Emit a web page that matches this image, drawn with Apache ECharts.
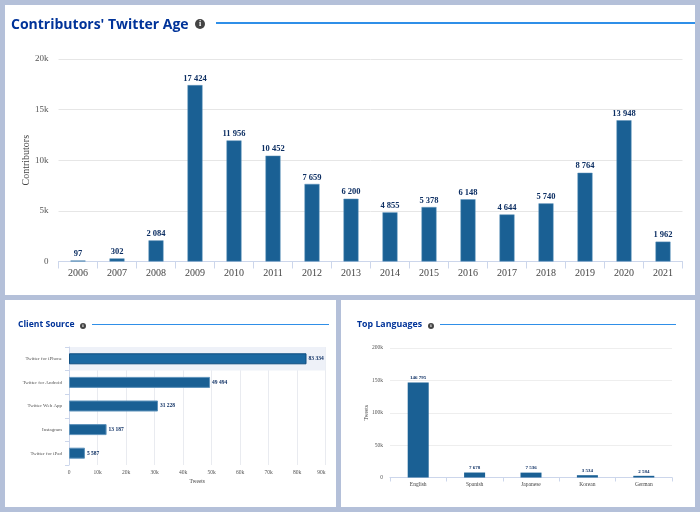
<!DOCTYPE html>
<html>
<head>
<meta charset="utf-8">
<title>Contributors</title>
<script src="https://cdn.jsdelivr.net/npm/echarts@6/dist/echarts.min.js"></script>
<style>
html,body{margin:0;padding:0;width:700px;height:512px;background:#b4c0d9;overflow:hidden;}
.panel{position:absolute;background:#fff;}
.chart{position:absolute;left:0;top:0;width:100%;height:100%;}
.head{position:absolute;z-index:2;color:#003399;font-family:"Open Sans","Noto Sans",sans-serif;font-weight:700;white-space:nowrap;}
.info{position:absolute;z-index:2;border-radius:50%;background:#444;color:#fff;font-family:"Liberation Serif",serif;font-weight:700;text-align:center;}
.rule{position:absolute;z-index:2;height:2px;background:#2f8fe8;}
</style>
</head>
<body>
<div class="panel" style="left:5px;top:5px;width:690px;height:290px;">
	<div class="head" style="left:6px;top:9px;font-size:14px;">Contributors' Twitter Age</div>
	<div class="info" style="left:190px;top:14px;width:10px;height:10px;font-size:8px;line-height:10px;">i</div>
	<div class="rule" style="left:211px;top:17px;width:479px;"></div>
	<div class="chart" id="age"></div>
</div>
<div class="panel" style="left:5px;top:300px;width:331px;height:207px;">
	<div class="head" style="left:13px;top:18px;font-size:8.6px;">Client Source</div>
	<div class="info" style="left:75px;top:23px;width:6px;height:6px;font-size:5px;line-height:6px;">i</div>
	<div class="rule" style="left:87px;top:24px;width:237px;height:1px;"></div>
	<div class="chart" id="client"></div>
</div>
<div class="panel" style="left:341px;top:300px;width:354px;height:207px;">
	<div class="head" style="left:16px;top:18px;font-size:8.8px;">Top Languages</div>
	<div class="info" style="left:87px;top:23px;width:6px;height:6px;font-size:5px;line-height:6px;">i</div>
	<div class="rule" style="left:99px;top:24px;width:236px;height:1px;"></div>
	<div class="chart" id="lang"></div>
</div>
<script>
var ageYears = ['2006','2007','2008','2009','2010','2011','2012','2013','2014','2015','2016','2017','2018','2019','2020','2021'];
var ageValues = [97,302,2084,17424,11956,10452,7659,6200,4855,5378,6148,4644,5740,8764,13948,1962];
var clientNames = ['Twitter for iPhone','Twitter for Android','Twitter Web App','Instagram','Twitter for iPad'];
var clientValues = [83334,49494,31228,13187,5587];
var langNames = ['English','Spanish','Japanese','Korean','German'];
var langValues = [146795,7678,7536,3534,2584];

var serif = '"Liberation Serif",serif';
var barColor = '#1a6094';
var barEdge = '#5f93bb';

/* 17424 -> 17 424 */
function spaced(v){
	return String(v).replace(/\B(?=(\d{3})+$)/g,' ');
}
function kilo(v){
	return v === 0 ? '0' : (v/1000)+'k';
}
function labelStyle(size,pos){
	return {show:true,position:pos,fontFamily:serif,fontWeight:'bold',fontSize:size,color:'#0d2f63',
		distance:2,formatter:function(p){ return spaced(p.value); }};
}

var ageChart = echarts.init(document.getElementById('age'));
ageChart.setOption({
	animation:false,
	grid:{left:53.5,right:12.5,top:54,bottom:33.5,outerBoundsMode:'none'},
	xAxis:{type:'category',data:ageYears,
		axisLine:{lineStyle:{color:'#ccd6eb'}},
		axisTick:{show:true,length:7,lineStyle:{color:'#ccd6eb'}},
		axisLabel:{fontFamily:serif,fontSize:10,color:'#444',margin:7}},
	yAxis:{type:'value',min:0,max:20000,interval:5000,
		name:'Contributors',nameLocation:'middle',nameGap:27,nameMoveOverlap:false,
		nameTextStyle:{fontFamily:serif,fontSize:10,color:'#444'},
		axisLabel:{fontFamily:serif,fontSize:9,color:'#555',margin:10,formatter:kilo},
		splitLine:{lineStyle:{color:'#e6e6e6'}}},
	series:[{type:'bar',data:ageValues,barWidth:15,
		itemStyle:{color:barColor,borderColor:barEdge,borderWidth:0.5,borderJoin:'miter'},label:labelStyle(8.5,'top')}]
});

var clientChart = echarts.init(document.getElementById('client'));
clientChart.setOption({
	animation:false,
	tooltip:{trigger:'axis',showContent:false,
		axisPointer:{type:'shadow',z:0,shadowStyle:{color:'#eef1f8',opacity:1}}},
	grid:{left:64,right:10.5,top:47,bottom:42,outerBoundsMode:'none'},
	xAxis:{type:'value',min:0,max:90000,interval:10000,
		name:'Tweets',nameLocation:'middle',nameGap:14,nameMoveOverlap:false,
		nameTextStyle:{fontFamily:serif,fontSize:5.5,color:'#444'},
		axisLine:{show:false},axisTick:{show:false},
		axisLabel:{fontFamily:serif,fontSize:5.5,color:'#555',margin:5,alignMaxLabel:'right',formatter:kilo},
		splitLine:{lineStyle:{color:'#e9ebf0'}}},
	yAxis:{type:'category',data:clientNames,inverse:true,
		axisLine:{show:true,lineStyle:{color:'#ccd6eb'}},
		axisTick:{show:true,length:4,lineStyle:{color:'#ccd6eb'}},
		axisLabel:{fontFamily:serif,fontSize:5,color:'#555',margin:7}},
	series:[{type:'bar',barWidth:11,
		data:clientValues.map(function(v,i){
			// first bar sits in the hover state, darker edge
			return i === 0 ? {value:v,itemStyle:{borderColor:'#0f4f80'}} : v;
		}),
		itemStyle:{color:barColor,borderColor:barEdge,borderWidth:1,borderJoin:'miter'},label:labelStyle(5.5,'right')}]
});
clientChart.dispatchAction({type:'showTip',seriesIndex:0,dataIndex:0});

var langChart = echarts.init(document.getElementById('lang'));
langChart.setOption({
	animation:false,
	grid:{left:49,right:23,top:48,bottom:29.5,outerBoundsMode:'none'},
	xAxis:{type:'category',data:langNames,
		axisLine:{lineStyle:{color:'#ccd6eb'}},
		axisTick:{show:true,length:4,lineStyle:{color:'#ccd6eb'}},
		axisLabel:{fontFamily:serif,fontSize:5.5,color:'#444',margin:4}},
	yAxis:{type:'value',min:0,max:200000,interval:50000,
		name:'Tweets',nameLocation:'middle',nameGap:20,nameMoveOverlap:false,
		nameTextStyle:{fontFamily:serif,fontSize:5.5,color:'#444'},
		axisLabel:{fontFamily:serif,fontSize:5.5,color:'#555',margin:7,formatter:kilo},
		splitLine:{lineStyle:{color:'#eeeeee'}}},
	series:[{type:'bar',data:langValues,barWidth:21,
		itemStyle:{color:barColor},label:labelStyle(5,'top')}]
});
</script>
</body>
</html>
